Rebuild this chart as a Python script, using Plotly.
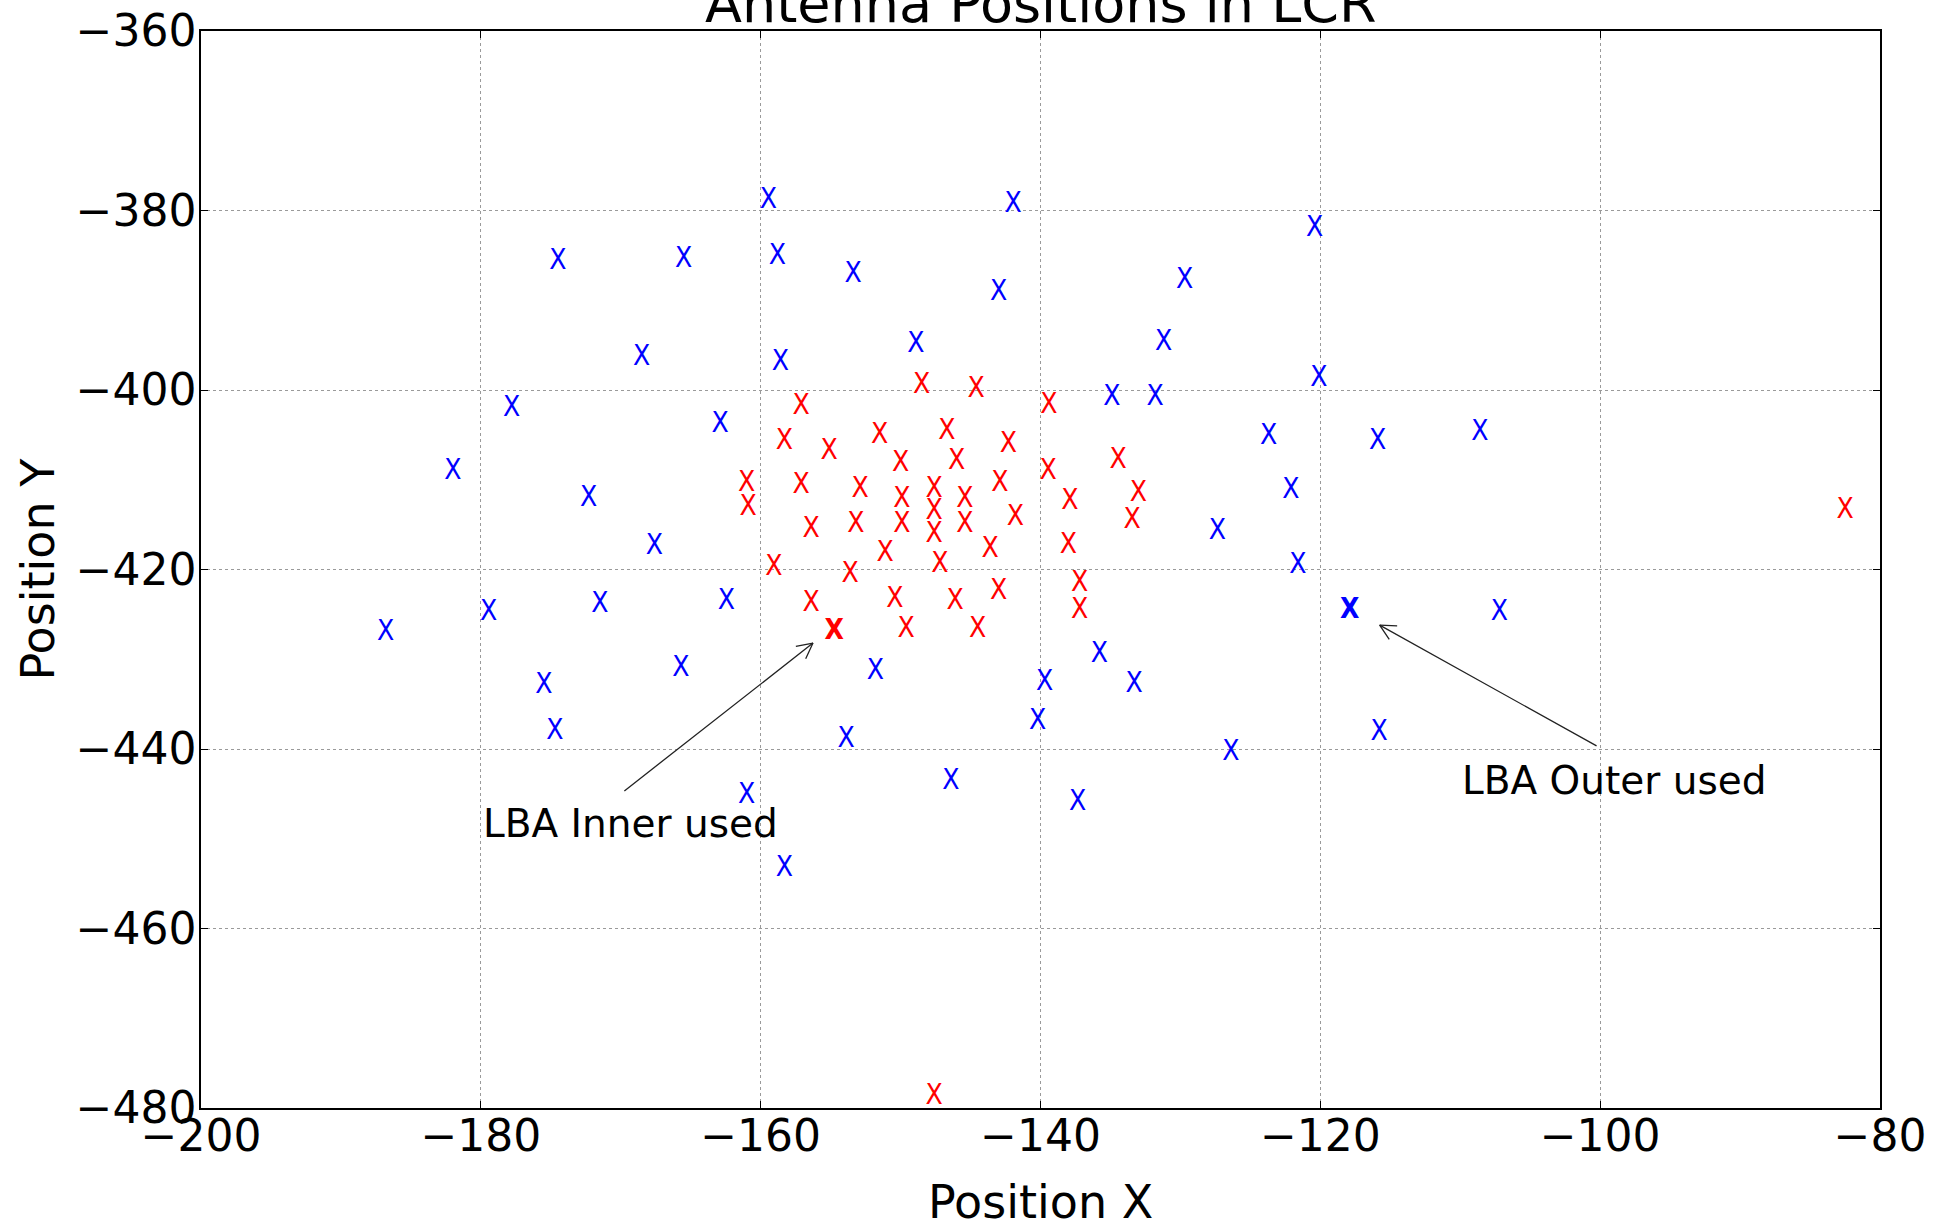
import math
import plotly.graph_objects as go

# ---------------- data ----------------
outer_x = [-159.45, -141.95, -120.4, -174.5, -165.5, -158.8, -153.4, -143.0, -129.7,
           -168.5, -158.6, -148.9, -131.2, -120.1, -177.8, -162.9, -134.9, -131.8,
           -123.7, -115.9, -108.6, -182.0, -172.3, -122.1, -167.6, -127.35, -121.6,
           -186.8, -179.45, -171.5, -162.45, -107.2, -175.5, -165.7, -151.8, -139.7,
           -135.8, -133.3, -174.7, -153.9, -140.2, -115.8, -161.0, -146.4, -126.4,
           -137.35, -158.3]
outer_y = [-378.5, -378.9, -381.6, -385.3, -385.1, -384.7, -386.7, -388.7, -387.4,
           -396.0, -396.6, -394.5, -394.3, -398.3, -401.7, -403.5, -400.5, -400.5,
           -404.8, -405.3, -404.4, -408.7, -411.7, -410.8, -417.1, -415.4, -419.2,
           -426.6, -424.4, -423.5, -423.2, -424.4, -432.5, -430.6, -431.0, -432.2,
           -429.1, -432.4, -437.7, -438.6, -436.5, -437.8, -444.8, -443.2, -440.0,
           -445.6, -452.9]

inner_x = [-148.5, -144.6, -139.4, -157.1, -158.3, -155.1, -151.5, -146.7, -142.3,
           -150.0, -146.0, -139.45, -134.45, -161.0, -160.9, -157.1, -152.9, -149.9,
           -147.6, -147.6, -147.6, -145.4, -145.4, -142.9, -141.8, -149.9, -156.4,
           -153.2, -137.9, -138.0, -151.1, -147.2, -143.6, -159.05, -153.6, -137.2,
           -137.2, -156.4, -150.4, -146.1, -143.0, -149.6, -144.5, -133.0, -133.45,
           -82.5, -147.6]
inner_y = [-399.1, -399.6, -401.3, -401.4, -405.3, -406.5, -404.7, -404.2, -405.7,
           -407.8, -407.6, -408.7, -407.5, -410.0, -412.7, -410.3, -410.7, -411.8,
           -410.7, -413.2, -415.7, -411.8, -414.6, -410.0, -413.8, -414.6, -415.1,
           -414.6, -412.0, -416.9, -417.8, -419.0, -417.4, -419.4, -420.2, -421.2,
           -424.2, -423.4, -422.9, -423.2, -422.1, -426.3, -426.3, -411.1, -414.1,
           -413.0, -478.3]

used_inner_x = [-154.75]
used_inner_y = [-426.5]
used_outer_x = [-117.9]
used_outer_y = [-424.15]

annot_texts = ["LBA Inner used", "LBA Outer used"]
annot_tip_x = [-156.26, -115.76]
annot_tip_y = [-428.2, -426.2]
annot_tail_x = [-169.85, -100.15]
annot_tail_y = [-444.8, -439.75]
annot_text_x = [-180.0, -110.0]
annot_text_y = [-448.3, -443.5]

x_range = [-200, -80]
y_range = [-480, -360]
tick_step = 20

title_text = "Antenna Positions in LCR"
x_title = "Position X"
y_title = "Position Y"

# ---------------- layout geometry ----------------
W, H = 1933, 1229
ML, MR, MT, MB = 201, 53, 31, 121
PW, PH = W - ML - MR, H - MT - MB
px_per_x = PW / (x_range[1] - x_range[0])
px_per_y = PH / (y_range[1] - y_range[0])

FONT = "DejaVu Sans"
MARK_FONT = "DejaVu Sans Condensed, DejaVu Sans"
MARK_SIZE = 28
# small downward nudge so the glyph's visual centre sits on the data point
GLYPH = '<span style="baseline-shift:-3.5px">X</span>'
GLYPH_BOLD = '<span style="baseline-shift:-3.5px"><b>X</b></span>'

fig = go.Figure()
fig.add_trace(go.Scatter(x=outer_x, y=outer_y, mode="text", text=[GLYPH] * len(outer_x),
                         textposition="middle center",
                         textfont=dict(family=MARK_FONT, size=MARK_SIZE, color="#0000ff"),
                         name="LBA Outer", showlegend=False))
fig.add_trace(go.Scatter(x=inner_x, y=inner_y, mode="text", text=[GLYPH] * len(inner_x),
                         textposition="middle center",
                         textfont=dict(family=MARK_FONT, size=MARK_SIZE, color="#ff0000"),
                         name="LBA Inner", showlegend=False))
fig.add_trace(go.Scatter(x=used_inner_x, y=used_inner_y, mode="text", text=[GLYPH_BOLD],
                         textposition="middle center",
                         textfont=dict(family=MARK_FONT, size=MARK_SIZE, color="#ff0000"),
                         showlegend=False))
fig.add_trace(go.Scatter(x=used_outer_x, y=used_outer_y, mode="text", text=[GLYPH_BOLD],
                         textposition="middle center",
                         textfont=dict(family=MARK_FONT, size=MARK_SIZE, color="#0000ff"),
                         showlegend=False))

annotations = []
HEAD_LEN = 19
HEAD_ANGLE = math.radians(27)
for i, t in enumerate(annot_texts):
    # arrow shaft
    annotations.append(dict(x=annot_tip_x[i], y=annot_tip_y[i], xref="x", yref="y",
                            ax=annot_tail_x[i], ay=annot_tail_y[i], axref="x", ayref="y",
                            text="", showarrow=True, arrowhead=0, arrowwidth=1.3,
                            arrowcolor="#222222", standoff=0, startstandoff=0))
    # open arrow head (two short strokes)
    dxp = (annot_tail_x[i] - annot_tip_x[i]) * px_per_x
    dyp = -(annot_tail_y[i] - annot_tip_y[i]) * px_per_y  # pixel, down positive
    ang = math.atan2(dyp, dxp)
    for s in (-1, 1):
        a = ang + s * HEAD_ANGLE
        annotations.append(dict(x=annot_tip_x[i], y=annot_tip_y[i], xref="x", yref="y",
                                ax=HEAD_LEN * math.cos(a), ay=HEAD_LEN * math.sin(a),
                                text="", showarrow=True, arrowhead=0, arrowwidth=1.3,
                                arrowcolor="#222222", standoff=0, startstandoff=0))
    annotations.append(dict(x=annot_text_x[i], y=annot_text_y[i], xref="x", yref="y",
                            text=t, showarrow=False, xanchor="left", yanchor="middle",
                            font=dict(family=FONT, size=39, color="black")))

# axis titles
annotations.append(dict(x=0.5, y=-(1202 - (MT + PH)) / PH, xref="paper", yref="paper",
                        text=x_title, showarrow=False, xanchor="center", yanchor="middle",
                        font=dict(family=FONT, size=46, color="black")))
annotations.append(dict(x=-(ML - 37) / PW, y=0.5, xref="paper", yref="paper",
                        text=y_title, showarrow=False, xanchor="center", yanchor="middle",
                        textangle=-90, font=dict(family=FONT, size=46, color="black")))
# title (partly outside the canvas, as in the original)
annotations.append(dict(x=0.5, y=1 + (MT - 3) / PH, xref="paper", yref="paper",
                        text=title_text, showarrow=False, xanchor="center", yanchor="middle",
                        font=dict(family=FONT, size=54, color="black")))

axis_common = dict(showgrid=True, gridcolor="#9a9a9a", griddash="dot", gridwidth=1,
                   showline=True, linecolor="black", linewidth=1.5, mirror="ticks",
                   ticks="inside", ticklen=7, tickwidth=1, tickcolor="black",
                   zeroline=False, tickfont=dict(family=FONT, size=44, color="black"),
                   dtick=tick_step, automargin=False)

fig.update_layout(
    width=W, height=H,
    margin=dict(l=ML, r=MR, t=MT, b=MB, autoexpand=False),
    paper_bgcolor="white", plot_bgcolor="white",
    xaxis=dict(range=x_range, tick0=x_range[0], ticklabelstandoff=-12, **axis_common),
    yaxis=dict(range=y_range, tick0=y_range[0], ticklabelstandoff=-6, **axis_common),
    annotations=annotations,
    showlegend=False,
)

fig.write_html("out.html")
